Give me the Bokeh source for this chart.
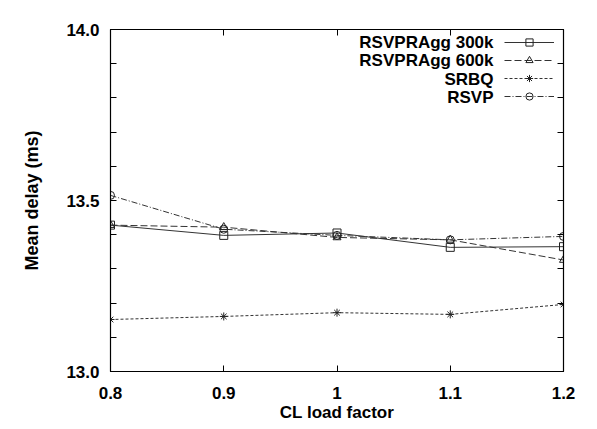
from bokeh.plotting import figure
from bokeh.models import Range1d, FixedTicker, LinearAxis, Legend, LegendItem, CustomJSTickFormatter, Label
from bokeh.embed import file_html
from bokeh.resources import INLINE

load = [0.8, 0.9, 1.0, 1.1, 1.2]
agg300 = [13.428, 13.398, 13.405, 13.363, 13.365]
agg600 = [13.428, 13.422, 13.392, 13.385, 13.326]
srbq = [13.152, 13.161, 13.172, 13.167, 13.196]
rsvp = [13.515, 13.416, 13.398, 13.385, 13.395]

names = ["RSVPRAgg 300k", "RSVPRAgg 600k", "SRBQ", "RSVP"]
x_ticks = [0.8, 0.9, 1.0, 1.1, 1.2]
y_ticks = [13.0, 13.5, 14.0]
y_minor = [13.1, 13.2, 13.3, 13.4, 13.6, 13.7, 13.8, 13.9]

FONT = "Liberation Sans"

p = figure(frame_width=453, frame_height=342, output_backend="svg", toolbar_location=None,
           x_range=Range1d(0.8, 1.2), y_range=Range1d(13.0, 14.0),
           min_border_left=110, min_border_right=26, min_border_top=29, min_border_bottom=50)
p.grid.visible = False
p.outline_line_color = "black"
p.outline_line_width = 1.2
p.background_fill_color = "white"
p.border_fill_color = "white"

xax = p.xaxis[0]
yax = p.yaxis[0]

series = [agg300, agg600, srbq, rsvp]
dashes = ["solid", "7 3", "3 2", "6 2 1 2"]
markers = ["square", "triangle", "asterisk", "circle"]
glyph_items = []
for name, ys, d, m in zip(names, series, dashes, markers):
    r1 = p.line(load, ys, line_color="#333333", line_width=1, line_dash=d)
    r2 = p.scatter(load, ys, marker=m, size=8, line_color="#222222", fill_color=None, line_width=1)
    glyph_items.append(LegendItem(label=" ", renderers=[r1, r2]))

xax.ticker = FixedTicker(ticks=x_ticks, minor_ticks=[])
xax.major_label_overrides = {1: "1"}
xax.axis_label = "CL load factor"
yax.ticker = FixedTicker(ticks=y_ticks, minor_ticks=y_minor)
yax.formatter = CustomJSTickFormatter(code="return tick.toFixed(1)")
yax.axis_label = "Mean delay (ms)"

top = LinearAxis(ticker=FixedTicker(ticks=x_ticks, minor_ticks=[]),
                 major_label_text_font_size="1px", major_label_text_color=None, major_label_standoff=0)
right = LinearAxis(ticker=FixedTicker(ticks=y_ticks, minor_ticks=y_minor),
                   major_label_text_font_size="1px", major_label_text_color=None, major_label_standoff=0)
p.add_layout(top, "above")
p.add_layout(right, "right")

for ax in [xax, yax, top, right]:
    ax.major_tick_in = 6
    ax.major_tick_out = 0
    ax.minor_tick_in = 6
    ax.minor_tick_out = 0
    ax.axis_line_color = "black"
    ax.major_tick_line_color = "black"
    ax.minor_tick_line_color = "black"
    ax.major_label_text_font = FONT
    ax.major_label_text_font_style = "bold"
    ax.axis_label_text_font = FONT
    ax.axis_label_text_font_style = "bold"
    ax.axis_label_text_color = "black"

xax.major_label_text_color = "black"
yax.major_label_text_color = "black"
xax.major_label_text_font_size = "17px"
xax.major_label_standoff = 15
xax.axis_label_text_font_size = "17px"
xax.axis_label_standoff = 1
yax.major_label_text_font_size = "17px"
yax.major_label_standoff = 11
yax.axis_label_text_font_size = "18px"
yax.axis_label_standoff = 21

# legend: glyph samples (Bokeh legend) with the series names right-aligned to their left
legend_glyph = Legend(items=glyph_items, location="top_right")
legend_glyph.label_text_font = FONT
legend_glyph.label_text_font_size = "17px"
legend_glyph.label_width = 0
legend_glyph.label_height = 18
legend_glyph.glyph_height = 18
legend_glyph.glyph_width = 50
legend_glyph.spacing = 0
legend_glyph.padding = 0
legend_glyph.label_standoff = 5
legend_glyph.margin = 4
legend_glyph.border_line_color = None
legend_glyph.background_fill_alpha = 0
p.add_layout(legend_glyph)

row_top = 329   # frame-relative screen y of the first legend row
row_step = 18.4
for i, name in enumerate(names):
    p.add_layout(Label(x=383, y=row_top - i * row_step, x_units="screen", y_units="screen",
                       text=name, text_align="right", text_baseline="middle",
                       text_font=FONT, text_font_style="bold", text_font_size="17px",
                       text_color="black"))

open("out.html", "w").write(file_html(p, INLINE))
